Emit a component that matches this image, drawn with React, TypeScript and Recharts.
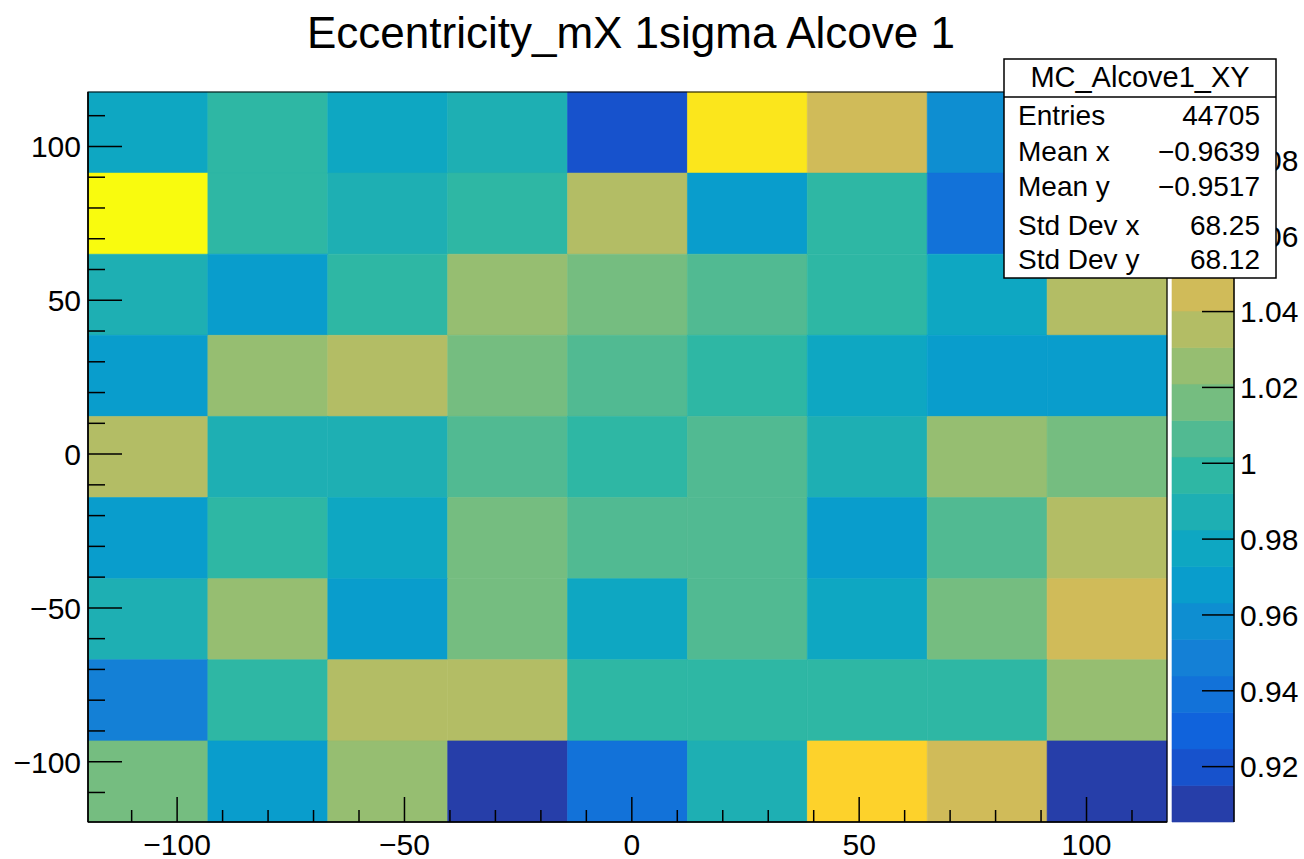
import React from 'react'
import { ScatterChart, Scatter, XAxis, YAxis, ReferenceArea } from 'recharts'

const title = 'Eccentricity_mX 1sigma Alcove 1'
const histName = 'MC_Alcove1_XY'

// 9x9 binning, same edges on x and y
const axisMin = -119.6
const axisMax = 117.7
const nBins = 9

// bin contents, one array per y row (top row first), x from left to right
const rowY9 = [0.9776, 0.9968, 0.9776, 0.9872, 0.9198, 1.0835, 1.045, 0.9583, 0.968]
const rowY8 = [1.0979, 0.9968, 0.9872, 0.9968, 1.0353, 0.968, 0.9968, 0.9391, 0.9776]
const rowY7 = [0.9872, 0.968, 0.9968, 1.0257, 1.0161, 1.0064, 0.9968, 0.9776, 1.0353]
const rowY6 = [0.968, 1.0257, 1.0353, 1.0161, 1.0064, 0.9968, 0.9776, 0.968, 0.968]
const rowY5 = [1.0353, 0.9872, 0.9872, 1.0064, 0.9968, 1.0064, 0.9872, 1.0257, 1.0161]
const rowY4 = [0.968, 0.9968, 0.9776, 1.0161, 1.0064, 1.0064, 0.968, 1.0064, 1.0353]
const rowY3 = [0.9872, 1.0257, 0.968, 1.0161, 0.9776, 1.0064, 0.9776, 1.0161, 1.045]
const rowY2 = [0.9487, 0.9968, 1.0353, 1.0353, 0.9968, 0.9968, 0.9968, 0.9968, 1.0257]
const rowY1 = [1.0161, 0.968, 1.0257, 0.9054, 0.9391, 0.9872, 1.0738, 1.045, 0.909]
const rows = [rowY9, rowY8, rowY7, rowY6, rowY5, rowY4, rowY3, rowY2, rowY1]

const axisTicks = [-110, -100, -90, -80, -70, -60, -50, -40, -30, -20, -10, 0, 10, 20, 30, 40, 50, 60, 70, 80, 90, 100, 110]
const labeledTicks = [-100, -50, 0, 50, 100]
const zTicks = [0.92, 0.94, 0.96, 0.98, 1, 1.02, 1.04, 1.06, 1.08]
const nContours = 20

const statLabels = ['Entries', 'Mean x', 'Mean y', 'Std Dev x', 'Std Dev y']
const statValues = ['44705', '\u22120.9639', '\u22120.9517', '68.25', '68.12']

const font = "'Liberation Sans', Arial, Helvetica, sans-serif"

// ROOT kBird palette
const birdR = [0.2082, 0.0592, 0.078, 0.0232, 0.1802, 0.5301, 0.8186, 0.9956, 0.9764]
const birdG = [0.1664, 0.3599, 0.5041, 0.6419, 0.7178, 0.7492, 0.7328, 0.7862, 0.9832]
const birdB = [0.5293, 0.8684, 0.8385, 0.7914, 0.6425, 0.4662, 0.3499, 0.1968, 0.0539]

function bird(f: number) {
    const p = Math.max(0, Math.min(1, f)) * 8
    const s = Math.min(7, Math.floor(p))
    const t = p - s
    const mix = (a: number[]) => Math.round(255 * (a[s] + (a[s + 1] - a[s]) * t))
    return `rgb(${mix(birdR)},${mix(birdG)},${mix(birdB)})`
}

const allValues = rows.flat()
const zMin = Math.min(...allValues)
const zMax = Math.max(...allValues)
const dz = (zMax - zMin) / nContours

const bandColor = (k: number) => bird((k + 0.99) / nContours)
const valueColor = (v: number) => bandColor(Math.min(nContours - 1, Math.floor((v - zMin) / dz)))

const binW = (axisMax - axisMin) / nBins
const cells = rows.flatMap((row, ri) =>
    row.map((v, ci) => {
        const iy = nBins - 1 - ri
        return {
            x1: axisMin + ci * binW,
            x2: axisMin + (ci + 1) * binW,
            y1: axisMin + iy * binW,
            y2: axisMin + (iy + 1) * binW,
            x: axisMin + (ci + 0.5) * binW,
            y: axisMin + (iy + 0.5) * binW,
            v,
        }
    })
)
const bands = Array.from({ length: nContours }, (_, k) => ({ k, lo: zMin + k * dz, hi: zMin + (k + 1) * dz }))

const fmt = (v: number) => (v < 0 ? '\u2212' + Math.abs(v) : String(v))
const fmtZ = (v: number) => String(Number(v.toFixed(2)))

const XTick = (p: any) => {
    const v = p.payload.value
    const major = labeledTicks.includes(v)
    const axisY = p.y - 12
    return (
        <g>
            <line x1={p.x} x2={p.x} y1={axisY} y2={axisY - (major ? 25 : 12)} stroke="#000" strokeWidth={1.5} />
            {major && (
                <text x={p.x} y={p.y} dy="0.71em" textAnchor="middle" fontSize={30} fontFamily={font} fill="#000">
                    {fmt(v)}
                </text>
            )}
        </g>
    )
}

const YTick = (p: any) => {
    const v = p.payload.value
    const major = labeledTicks.includes(v)
    const axisX = p.x + 7
    return (
        <g>
            <line x1={axisX} x2={axisX + (major ? 34 : 17)} y1={p.y} y2={p.y} stroke="#000" strokeWidth={1.5} />
            {major && (
                <text x={p.x} y={p.y} dy="0.36em" textAnchor="end" fontSize={30} fontFamily={font} fill="#000">
                    {fmt(v)}
                </text>
            )}
        </g>
    )
}

const ZTick = (p: any) => {
    const v = p.payload.value
    const axisX = p.x - 6
    return (
        <g>
            <line x1={axisX} x2={axisX - 32} y1={p.y} y2={p.y} stroke="#000" strokeWidth={1.5} />
            <text x={p.x} y={p.y} dy="0.36em" textAnchor="start" fontSize={30} fontFamily={font} fill="#000">
                {fmtZ(v)}
            </text>
        </g>
    )
}

const statBaselines = [125, 161, 196, 235, 269]

export default function App() {
    return (
        <div style={{ position: 'absolute', left: 0, top: 0, width: 1304, height: 859, background: '#fff', fontFamily: font }}>
            <div style={{ position: 'absolute', left: 0, top: 0 }}>
                <ScatterChart width={1304} height={859} margin={{ top: 92, right: 137, bottom: 5, left: 8 }}>
                    {cells.map((c, i) => (
                        <ReferenceArea
                            key={i}
                            x1={c.x1}
                            x2={c.x2}
                            y1={c.y1}
                            y2={c.y2}
                            fill={valueColor(c.v)}
                            fillOpacity={1}
                            stroke={valueColor(c.v)}
                            strokeWidth={0.6}
                            ifOverflow="visible"
                        />
                    ))}
                    <ReferenceArea x1={axisMin} x2={axisMax} y1={axisMin} y2={axisMax} fill="none" stroke="#000" strokeWidth={1.2} ifOverflow="visible" />
                    <Scatter data={cells} dataKey="y" shape={() => <g />} isAnimationActive={false} />
                    <XAxis
                        type="number"
                        dataKey="x"
                        domain={[axisMin, axisMax]}
                        allowDataOverflow
                        ticks={axisTicks}
                        interval={0}
                        height={32}
                        tickSize={0}
                        tickMargin={12}
                        tickLine={false}
                        axisLine={{ stroke: '#000', strokeWidth: 1.5 }}
                        tick={(p: any) => <XTick {...p} />}
                    />
                    <YAxis
                        type="number"
                        dataKey="y"
                        domain={[axisMin, axisMax]}
                        allowDataOverflow
                        ticks={axisTicks}
                        interval={0}
                        width={80}
                        tickSize={0}
                        tickMargin={7}
                        tickLine={false}
                        axisLine={{ stroke: '#000', strokeWidth: 1.5 }}
                        tick={(p: any) => <YTick {...p} />}
                    />
                </ScatterChart>
            </div>

            {/* colour scale */}
            <div style={{ position: 'absolute', left: 1162, top: 0 }}>
                <ScatterChart width={142} height={859} margin={{ top: 92, right: 0, bottom: 37, left: 10 }}>
                    {bands.map((b) => (
                        <ReferenceArea
                            key={b.k}
                            x1={0}
                            x2={1}
                            y1={b.lo}
                            y2={b.hi}
                            fill={bandColor(b.k)}
                            fillOpacity={1}
                            stroke={bandColor(b.k)}
                            strokeWidth={0.6}
                            ifOverflow="visible"
                        />
                    ))}
                    <Scatter data={bands} dataKey="lo" shape={() => <g />} isAnimationActive={false} />
                    <XAxis type="number" dataKey="k" domain={[0, 1]} allowDataOverflow hide />
                    <YAxis
                        type="number"
                        dataKey="lo"
                        orientation="right"
                        domain={[zMin, zMax]}
                        allowDataOverflow
                        ticks={zTicks}
                        interval={0}
                        width={70}
                        tickSize={0}
                        tickMargin={6}
                        tickLine={false}
                        axisLine={{ stroke: '#000', strokeWidth: 1.5 }}
                        tick={(p: any) => <ZTick {...p} />}
                    />
                </ScatterChart>
            </div>

            {/* title and statistics box */}
            <svg width={1304} height={859} style={{ position: 'absolute', left: 0, top: 0, pointerEvents: 'none' }}>
                <text x={631} y={48} textAnchor="middle" fontSize={44} fontFamily={font} fill="#000">
                    {title}
                </text>
                <rect x={1004} y={59} width={272} height={219} fill="#fff" stroke="#000" strokeWidth={1.5} />
                <line x1={1004} x2={1276} y1={97} y2={97} stroke="#000" strokeWidth={1.5} />
                <text x={1140} y={87} textAnchor="middle" fontSize={29} fontFamily={font} fill="#000">
                    {histName}
                </text>
                {statLabels.map((l, i) => (
                    <g key={l}>
                        <text x={1018} y={statBaselines[i]} fontSize={28} fontFamily={font} fill="#000">
                            {l}
                        </text>
                        <text x={1260} y={statBaselines[i]} textAnchor="end" fontSize={28} fontFamily={font} fill="#000">
                            {statValues[i]}
                        </text>
                    </g>
                ))}
            </svg>
        </div>
    )
}
